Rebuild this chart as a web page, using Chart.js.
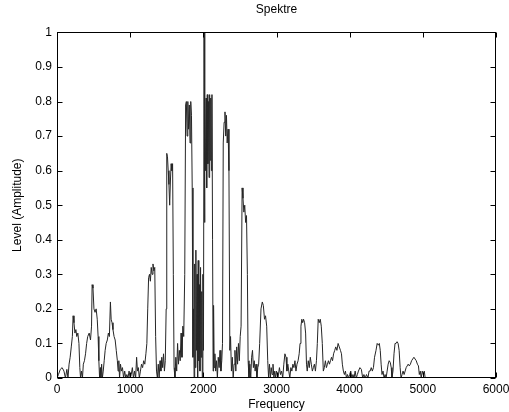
<!DOCTYPE html>
<html>
<head>
<meta charset="utf-8">
<script src="https://cdn.jsdelivr.net/npm/chart.js@4/dist/chart.umd.min.js"></script>
<style>
  html, body { margin: 0; padding: 0; background: #fff; }
  #chart { display: block; }
</style>
</head>
<body>
<canvas id="chart" width="509" height="412"></canvas>
<script>
// spectrum, split in bands of ~1000 Hz
const freqLow = [
  0, 20, 45, 70, 95, 115, 135, 150, 165, 180,
  195, 210, 220, 232, 245, 258, 270, 285, 300, 312,
  322, 335, 348, 360, 375, 390, 405, 420, 440, 458,
  472, 480, 492, 505, 520, 535, 550, 562, 572, 582,
  592, 600, 610, 620, 632, 645, 658, 672, 688, 702,
  716, 730, 740, 752, 765, 780, 795, 810, 825, 835,
  845, 855, 868, 880, 895, 910, 925, 940, 955, 970,
  985, 1000
];
const levelLow = [
  0, 0.01, 0.025, 0.03, 0.02, 0, 0.025, 0, 0.04, 0.06,
  0.09, 0.12, 0.18, 0.16, 0.13, 0.14, 0.12, 0.13, 0.1, 0.03,
  0, 0.02, 0, 0.04, 0.05, 0.07, 0.1, 0.12, 0.13, 0.11,
  0.15, 0.27, 0.26, 0.2, 0.19, 0.2, 0.17, 0.12, 0.05, 0,
  0.03, 0, 0.04, 0, 0.02, 0.05, 0.08, 0.1, 0.11, 0.13,
  0.12, 0.22, 0.17, 0.16, 0.14, 0.12, 0.11, 0.08, 0.05, 0.02,
  0.05, 0, 0.04, 0.02, 0.03, 0, 0.02, 0, 0.01, 0,
  0.02, 0
];

const freqRise = [
  1015, 1030, 1045, 1060, 1075, 1088, 1100, 1112, 1125, 1140,
  1155, 1170, 1185, 1200, 1215, 1228, 1240, 1252, 1264, 1276,
  1288, 1300, 1312, 1324, 1336, 1348, 1360, 1372, 1384, 1396,
  1408, 1420, 1432, 1444, 1456, 1468, 1480, 1492, 1500, 1510,
  1520, 1530, 1540, 1550, 1560, 1570, 1580, 1590, 1600, 1612,
  1624, 1636, 1648, 1660, 1672, 1684, 1696, 1708, 1720, 1732,
  1746, 1758, 1768, 1778, 1788, 1798, 1808, 1818, 1828, 1838,
  1848, 1858, 1866, 1874, 1882, 1890, 1898, 1906, 1914, 1922,
  1930, 1938, 1946, 1954, 1962, 1970, 1978, 1986, 1994, 2002
];
const levelRise = [
  0.01, 0.03, 0, 0.02, 0, 0.06, 0.02, 0.03, 0, 0.02,
  0.04, 0.03, 0.05, 0.04, 0.07, 0.1, 0.2, 0.29, 0.3, 0.28,
  0.32, 0.3, 0.33, 0.31, 0.32, 0.12, 0.02, 0, 0.04, 0,
  0.05, 0.02, 0.06, 0.03, 0.07, 0.02, 0.05, 0.2, 0.65, 0.64,
  0.6, 0.56, 0.5, 0.57, 0.62, 0.6, 0.62, 0.3, 0.03, 0,
  0.06, 0.02, 0.1, 0.04, 0.08, 0.05, 0.13, 0.06, 0.15, 0.12,
  0.3, 0.79, 0.8, 0.7, 0.8, 0.72, 0.79, 0.68, 0.8, 0.76,
  0.55, 0.06, 0.2, 0, 0.33, 0.03, 0.37, 0.08, 0.3, 0,
  0.34, 0.05, 0.27, 0.02, 0.32, 0.06, 0.25, 0, 0.3, 0.08
];

const freqPeak = [
  2010, 2016, 2022, 2030, 2038, 2046, 2054, 2062, 2070, 2078,
  2086, 2094, 2102, 2110, 2118, 2126, 2134, 2140, 2148, 2158,
  2168, 2180, 2192, 2204, 2216, 2228, 2240, 2252, 2262, 2272,
  2284, 2296, 2306, 2316, 2326, 2338, 2350, 2362, 2372, 2384,
  2396, 2408, 2420, 2432, 2444, 2456, 2468, 2480, 2492, 2504,
  2516, 2530, 2542, 2554, 2566, 2578, 2590, 2602, 2612, 2624,
  2636, 2648, 2660, 2672, 2684, 2696, 2708, 2720, 2732, 2744,
  2756, 2770, 2788, 2806, 2820, 2836, 2850, 2866, 2880, 2892,
  2904, 2916, 2928, 2940, 2952, 2964, 2976, 2988
];
const levelPeak = [
  1.0, 0.45, 0.82, 0.6, 0.81, 0.55, 0.82, 0.62, 0.8, 0.58,
  0.82, 0.63, 0.81, 0.6, 0.82, 0.4, 0.02, 0.21, 0.03, 0.07,
  0.02, 0.05, 0, 0.06, 0.03, 0.08, 0.02, 0.05, 0.1, 0.68,
  0.74, 0.77, 0.7, 0.76, 0.68, 0.72, 0.6, 0.08, 0.12, 0.02,
  0.06, 0, 0.04, 0.08, 0.02, 0.09, 0.04, 0.1, 0.05, 0.12,
  0.15, 0.55, 0.52, 0.48, 0.5, 0.45, 0.47, 0.3, 0.05, 0,
  0.04, 0, 0.06, 0.08, 0.03, 0.05, 0.02, 0.04, 0, 0.03,
  0.04, 0.1, 0.2, 0.22, 0.21, 0.17, 0.18, 0.15, 0.05, 0,
  0.04, 0, 0.03, 0.01, 0.04, 0, 0.02, 0
];

const freqTail = [
  3000, 3020, 3040, 3055, 3070, 3085, 3100, 3115, 3130, 3142,
  3155, 3168, 3182, 3196, 3210, 3224, 3238, 3252, 3266, 3280,
  3295, 3310, 3322, 3334, 3346, 3358, 3370, 3384, 3398, 3410,
  3420, 3434, 3448, 3462, 3476, 3490, 3504, 3518, 3532, 3546,
  3558, 3570, 3584, 3598, 3612, 3626, 3640, 3654, 3668, 3682,
  3696, 3710, 3724, 3738, 3752, 3766, 3780, 3796, 3810, 3826,
  3842, 3858, 3874, 3888, 3900, 3914, 3928, 3942, 3956, 3970,
  3984
];
const levelTail = [
  0.02, 0, 0.03, 0.01, 0.02, 0, 0.04, 0.07, 0.06, 0.02,
  0.04, 0.02, 0, 0.03, 0.02, 0.04, 0.03, 0.05, 0.02, 0.04,
  0.05, 0.07, 0.1, 0.15, 0.17, 0.16, 0.17, 0.16, 0.13, 0.04,
  0.02, 0.05, 0.03, 0.06, 0.04, 0.02, 0.03, 0.04, 0.02, 0.05,
  0.1, 0.17, 0.16, 0.17, 0.15, 0.1, 0.02, 0.03, 0.05, 0.03,
  0.04, 0.05, 0.04, 0.05, 0.06, 0.05, 0.07, 0.08, 0.09, 0.08,
  0.1, 0.09, 0.08, 0.07, 0.04, 0.02, 0.01, 0.02, 0, 0.01,
  0
];

const freqEnd = [
  4000, 4015, 4030, 4045, 4060, 4075, 4090, 4105, 4120, 4140,
  4160, 4178, 4195, 4212, 4230, 4250, 4265, 4280, 4295, 4310,
  4325, 4340, 4360, 4376, 4392, 4405, 4418, 4430, 4442, 4456,
  4470, 4484, 4498, 4512, 4526, 4540, 4555, 4568, 4578, 4592,
  4606, 4620, 4634, 4648, 4662, 4676, 4690, 4702, 4716, 4730,
  4744, 4758, 4772, 4786, 4800, 4815, 4830, 4846, 4862, 4878,
  4894, 4910, 4926, 4940, 4952, 4965, 4978, 4992, 5006, 5020,
  5032
];
const levelEnd = [
  0.01, 0.02, 0, 0.01, 0, 0.02, 0, 0.01, 0.02, 0.03,
  0.025, 0, 0.01, 0, 0.01, 0, 0.02, 0.02, 0.03, 0.02,
  0.03, 0.06, 0.08, 0.1, 0.095, 0.1, 0.08, 0.04, 0.01, 0.02,
  0, 0.01, 0, 0.02, 0.04, 0.05, 0.045, 0.03, 0, 0.02,
  0.07, 0.1, 0.1, 0.105, 0.1, 0.08, 0.03, 0, 0.01, 0.02,
  0.01, 0.02, 0.03, 0.035, 0.04, 0.035, 0.04, 0.05, 0.055, 0.06,
  0.055, 0.05, 0.04, 0.035, 0.01, 0.02, 0, 0.02, 0.01, 0.02,
  0
];

const xTicks = [0, 1000, 2000, 3000, 4000, 5000, 6000];
const yTicks = [0, 0.1, 0.2, 0.3, 0.4, 0.5, 0.6, 0.7, 0.8, 0.9, 1];

const freq = [...freqLow, ...freqRise, ...freqPeak, ...freqTail, ...freqEnd];
const level = [...levelLow, ...levelRise, ...levelPeak, ...levelTail, ...levelEnd];

const FONT = '"Liberation Sans", Arial, sans-serif';
Chart.defaults.font.family = FONT;
Chart.defaults.font.size = 12;
Chart.defaults.color = '#000';

// matlab style box with ticks pointing inwards on all four sides
const axesBox = {
  id: 'axesBox',
  afterDatasetsDraw(chart) {
    const { ctx, chartArea: a, scales: { x, y } } = chart;
    const L = Math.round(a.left) + 0.5, R = Math.round(a.right) - 0.5;
    const T = Math.round(a.top) + 0.5, B = Math.round(a.bottom) - 0.5;
    const len = 5;
    ctx.save();
    ctx.strokeStyle = '#000';
    ctx.lineWidth = 1;
    ctx.strokeRect(L, T, R - L, B - T);
    ctx.beginPath();
    x.ticks.forEach(t => {
      const px = Math.round(x.getPixelForValue(t.value)) + 0.5;
      ctx.moveTo(px, B); ctx.lineTo(px, B - len);
      ctx.moveTo(px, T); ctx.lineTo(px, T + len);
    });
    y.ticks.forEach(t => {
      const py = Math.round(y.getPixelForValue(t.value)) + 0.5;
      ctx.moveTo(L, py); ctx.lineTo(L + len, py);
      ctx.moveTo(R, py); ctx.lineTo(R - len, py);
    });
    ctx.stroke();
    ctx.restore();
  }
};

new Chart(document.getElementById('chart'), {
  type: 'line',
  data: {
    datasets: [{
      data: freq.map((f, i) => ({ x: f, y: level[i] })),
      borderColor: '#262626',
      borderWidth: 1,
      pointRadius: 0,
      tension: 0,
      fill: false
    }]
  },
  options: {
    responsive: false,
    animation: false,
    devicePixelRatio: 1,
    layout: { padding: { top: 0, right: 13, bottom: 0, left: 0 } },
    plugins: {
      legend: { display: false },
      tooltip: { enabled: false },
      title: {
        display: true,
        text: 'Spektre',
        fullSize: false,
        color: '#000',
        font: { size: 12, weight: 'normal' },
        padding: { top: 2, bottom: 16 }
      }
    },
    scales: {
      x: {
        type: 'linear',
        min: 0,
        max: 6000,
        afterBuildTicks: s => { s.ticks = xTicks.map(v => ({ value: v })); },
        afterFit: s => { s.height = 34; s.paddingLeft = 0; s.paddingRight = 0; },
        ticks: { padding: 4, maxRotation: 0, autoSkip: false, callback: v => String(v) },
        grid: { display: false, drawTicks: false },
        border: { display: false },
        title: { display: true, text: 'Frequency', padding: { top: 2, bottom: 0 } }
      },
      y: {
        min: 0,
        max: 1,
        afterBuildTicks: s => { s.ticks = yTicks.map(v => ({ value: v })); },
        afterFit: s => { s.width = 57; s.paddingTop = 0; s.paddingBottom = 0; },
        ticks: { padding: 5, autoSkip: false, callback: v => String(v) },
        grid: { display: false, drawTicks: false },
        border: { display: false },
        title: { display: true, text: 'Level (Amplitude)', padding: { top: 10, bottom: 0 } }
      }
    }
  },
  plugins: [axesBox]
});
</script>
</body>
</html>
